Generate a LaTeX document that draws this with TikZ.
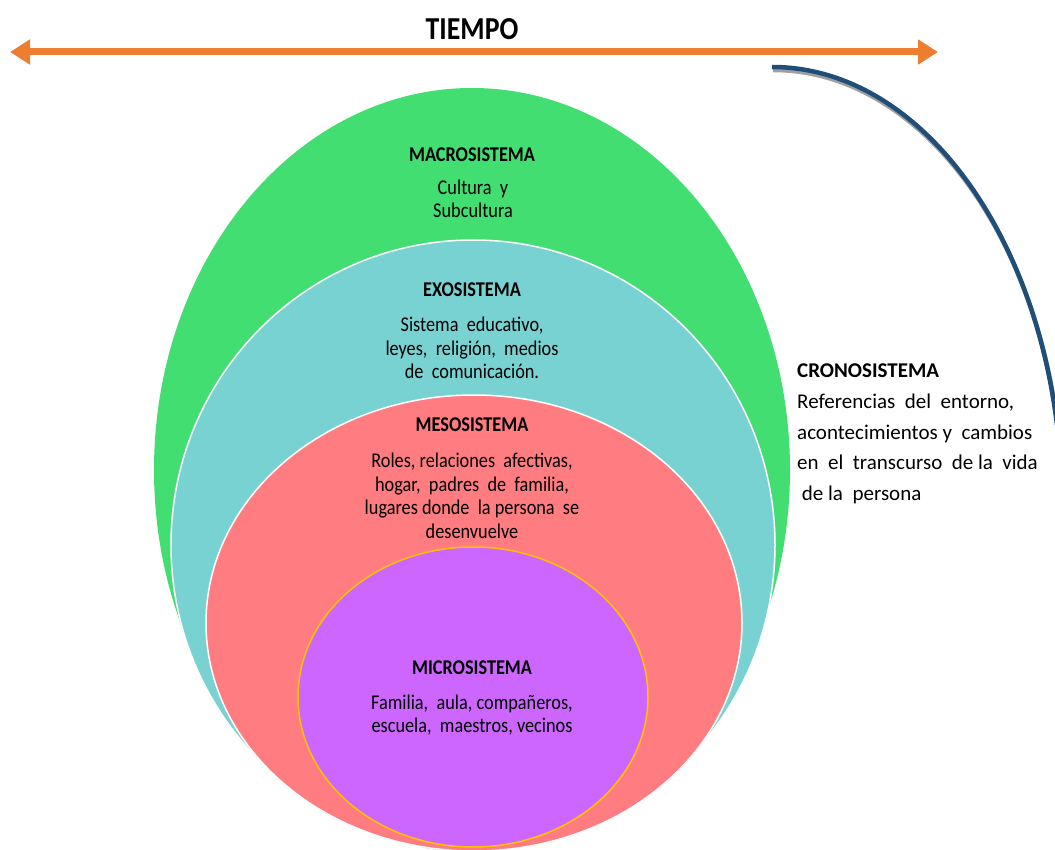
\documentclass[tikz,border=0pt]{standalone}
\usepackage{fontspec}
\setmainfont{Carlito}
\newfontfamily\narrowfont{Carlito}[FakeStretch=0.87]
\usetikzlibrary{arrows.meta}
\definecolor{macroc}{RGB}{66,222,114}
\definecolor{exoc}{RGB}{120,210,210}
\definecolor{mesoc}{RGB}{255,124,128}
\definecolor{microc}{RGB}{204,102,255}
\definecolor{goldc}{RGB}{255,192,0}
\definecolor{orangec}{RGB}{237,125,49}
\definecolor{bluec}{RGB}{31,78,121}
\definecolor{shadowc}{RGB}{160,160,160}
\tikzset{
  hd/.style={inner sep=0pt, font=\narrowfont\fontsize{21}{23.5}\selectfont\bfseries},
  bd/.style={inner sep=0pt, align=center, font=\narrowfont\fontsize{21}{23.5}\selectfont},
  cr/.style={inner sep=0pt, align=left, anchor=west, font=\fontsize{21}{30.5}\selectfont},
  layer/.style={draw=white, line width=1.5pt},
  timearrow/.style={draw=orangec, line width=7pt, {Triangle[length=20pt,width=24pt]}-{Triangle[length=20pt,width=24pt]}},
  cronoline/.style={draw=bluec, line width=4.5pt},
  cronoshadow/.style={draw=shadowc, line width=4.5pt}
}
\begin{document}
\begin{tikzpicture}[x=1pt,y=-1pt]
\useasboundingbox (0,0) rectangle (1055,850);
\begin{scope}
  \clip (0,0) rectangle (1055,850);
  \fill[macroc] (472,470) ellipse [x radius=318, y radius=382];
  \filldraw[layer, fill=exoc] (473,545) ellipse [x radius=302, y radius=305];
  \filldraw[layer, fill=mesoc] (474,623) ellipse [x radius=268, y radius=228];
  \filldraw[draw=goldc, line width=1.5pt, fill=microc] (473,697) ellipse [x radius=175, y radius=150];
  % cronosistema arc
  \coordinate (cs) at (772,67);
  \coordinate (css) at (773,70);
  \draw[cronoshadow] (css) arc[start angle=-90, end angle=-8, x radius=290, y radius=439];
  \draw[cronoline] (cs) arc[start angle=-90, end angle=-8, x radius=290, y radius=439];
\end{scope}
% time arrow
\coordinate (tL) at (10,52);
\coordinate (tR) at (938,52);
\draw[timearrow] (tL) -- (tR);
\node[inner sep=0pt, font=\narrowfont\fontsize{32}{36}\selectfont\bfseries] (tiempo) at (472,29) {TIEMPO};
% texts
\node[hd] (macroT) at (472,155) {MACROSISTEMA};
\node[bd] (macroB) at (473,199) {Cultura\ \ y\\Subcultura};
\node[hd] (exoT) at (472,290) {EXOSISTEMA};
\node[bd] (exoB) at (472,348) {Sistema\ \ educativo,\\leyes,\ \ religión,\ \ medios\\de\ \ comunicación.};
\node[hd] (mesoT) at (472,425) {MESOSISTEMA};
\node[bd] (mesoB) at (472,496) {Roles, relaciones\ \ afectivas,\\hogar,\ \ padres\ \ de\ \ familia,\\lugares donde\ \ la persona\ \ se\\desenvuelve};
\node[hd] (microT) at (472,668) {MICROSISTEMA};
\node[bd] (microB) at (472,715) {Familia,\ \ aula, compañeros,\\escuela,\ \ maestros, vecinos};
\node[cr, font=\fontsize{21}{30.5}\selectfont\bfseries] (cronoT) at (797,371) {CRONOSISTEMA};
\node[cr] (cronoB) at (797,449) {Referencias\ \ del\ \ entorno,\\acontecimientos y\ \ cambios\\en\ \ el\ \ transcurso\ \ de la\ \ vida\\\ de la\ \ persona};
\end{tikzpicture}
\end{document}
